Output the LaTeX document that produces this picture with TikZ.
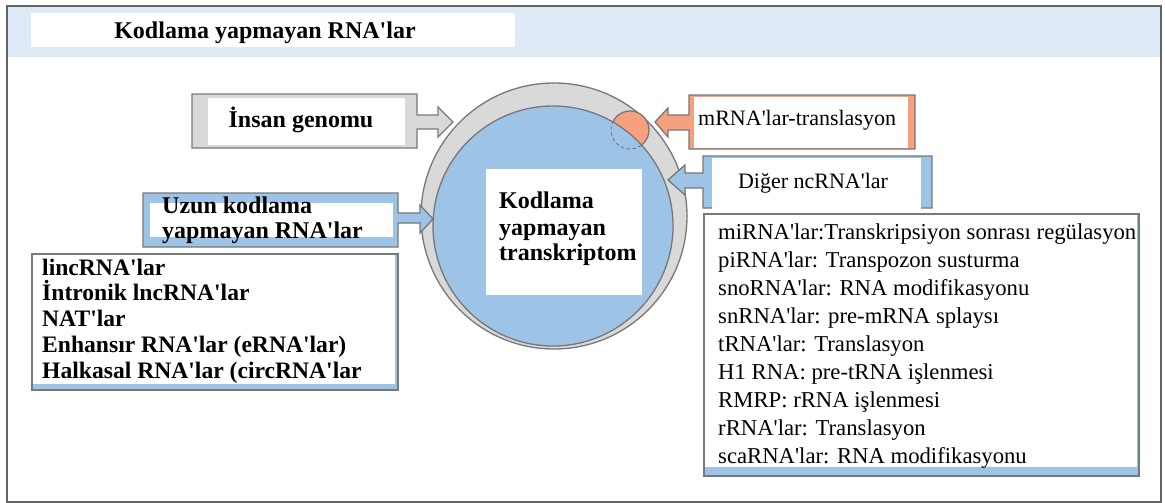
\documentclass[tikz,border=0pt]{standalone}
\usepackage{fontspec}
\newfontfamily\lib{Liberation Serif}
\definecolor{ringgray}{RGB}{217,217,217}
\definecolor{bluec}{RGB}{157,195,230}
\definecolor{orangec}{RGB}{247,160,128}
\definecolor{linegray}{RGB}{120,120,120}
\definecolor{headerblue}{RGB}{222,235,247}
\definecolor{framegray}{RGB}{100,100,100}
\tikzset{
  outl/.style={draw=linegray, line width=1.3pt},
  txtr/.style={font=\lib\fontsize{22.7}{27}\selectfont, anchor=base west, inner sep=0pt},
  txtb/.style={font=\lib\bfseries\fontsize{24}{28}\selectfont, anchor=base west, inner sep=0pt},
  txtl/.style={font=\lib\bfseries\fontsize{23.6}{28}\selectfont, anchor=base west, inner sep=0pt},
  whitebox/.style={fill=white},
}
\begin{document}
\begin{tikzpicture}[x=1pt,y=-1pt]
\useasboundingbox (0,0) rectangle (1165,503);
\fill[white] (0,0) rectangle (1165,503);
% header
\fill[headerblue] (7,6) rectangle (1161,57);
\draw[line width=2pt, framegray] (7,6) rectangle (1161,502);
\fill[whitebox] (31,13) rectangle (515,47);
\node[txtb, anchor=base] (title) at (265,39) {Kodlama yapmayan RNA'lar};

% circles
\draw[outl, fill=ringgray] (554,216) circle[radius=133];
\draw[outl, fill=orangec] (630,130) circle[radius=19];
\draw[outl, fill=bluec] (553,226) circle[radius=120];
\begin{scope}
  \clip (553,226) circle[radius=120];
  \draw[dashed, draw=linegray, line width=1pt] (630,130) circle[radius=19];
\end{scope}
\fill[whitebox] (486,169) rectangle (642,295);
\node[txtb] (c1) at (499,208) {Kodlama};
\node[txtb] (c2) at (499,235) {yapmayan};
\node[txtb] (c3) at (499,260) {transkriptom};

% Insan genomu callout
\draw[outl, fill=ringgray] (192,94) -- (417,94) -- (417,115) -- (438,115) -- (438,107) -- (453,122) -- (438,137) -- (438,129) -- (417,129) -- (417,148) -- (192,148) -- cycle;
\fill[whitebox] (208,98) rectangle (405,145);
\node[txtb, anchor=base] (insan) at (301,128) {İnsan genomu};

% mRNA callout
\draw[outl, fill=orangec] (915,95) -- (689,95) -- (689,115) -- (668,115) -- (668,108) -- (655,122) -- (668,137) -- (668,130) -- (689,130) -- (689,149) -- (915,149) -- cycle;
\fill[whitebox] (694,97) rectangle (908,148);
\node[txtr, font=\lib\fontsize{22}{26}\selectfont] (mrna) at (698,125) {mRNA'lar-translasyon};

% Diger callout
\draw[outl, fill=bluec] (932,156) -- (703,156) -- (703,173) -- (685,173) -- (685,165) -- (668,180) -- (685,195) -- (685,188) -- (703,188) -- (703,208) -- (932,208) -- cycle;
\fill[whitebox] (712,157.5) rectangle (921,210);
\node[txtr, anchor=base, font=\lib\fontsize{22}{26}\selectfont] (diger) at (813,188) {Diğer ncRNA'lar};

% Uzun callout
\draw[outl, fill=bluec] (143,193) -- (398,193) -- (398,213) -- (420,213) -- (420,205) -- (433,219) -- (420,233) -- (420,223) -- (398,223) -- (398,247) -- (143,247) -- cycle;
\fill[whitebox] (150,203) rectangle (393,237);
\node[txtb] (uzun1) at (162,213) {Uzun kodlama};
\node[txtb] (uzun2) at (162,238) {yapmayan RNA'lar};

% left list
\draw[outl, fill=bluec] (32,254) rectangle (398,390);
\fill[whitebox] (33,255) rectangle (395,384);
\node[txtl] (a1) at (42,275) {lincRNA'lar};
\node[txtl] (a2) at (42,300.75) {İntronik lncRNA'lar};
\node[txtl] (a3) at (42,326.5) {NAT'lar};
\node[txtl] (a4) at (42,352.25) {Enhansır RNA'lar (eRNA'lar)};
\node[txtl] (a5) at (42,378) {Halkasal RNA'lar (circRNA'lar};

% right list
\draw[outl, fill=bluec] (704,214) rectangle (1139,476);
\fill[whitebox] (705,215) rectangle (1137,467);
\node[txtr] (b1) at (718,239) {miRNA'lar:Transkripsiyon sonrası regülasyon};
\node[txtr] (b2) at (718,267) {piRNA'lar: Transpozon susturma};
\node[txtr] (b3) at (718,295) {snoRNA'lar: RNA modifikasyonu};
\node[txtr] (b4) at (718,323) {snRNA'lar: pre-mRNA splaysı};
\node[txtr] (b5) at (718,351) {tRNA'lar: Translasyon};
\node[txtr] (b6) at (718,379) {H1 RNA: pre-tRNA işlenmesi};
\node[txtr] (b7) at (718,407) {RMRP: rRNA işlenmesi};
\node[txtr] (b8) at (718,435) {rRNA'lar: Translasyon};
\node[txtr] (b9) at (718,463) {scaRNA'lar: RNA modifikasyonu};
\end{tikzpicture}
\end{document}
